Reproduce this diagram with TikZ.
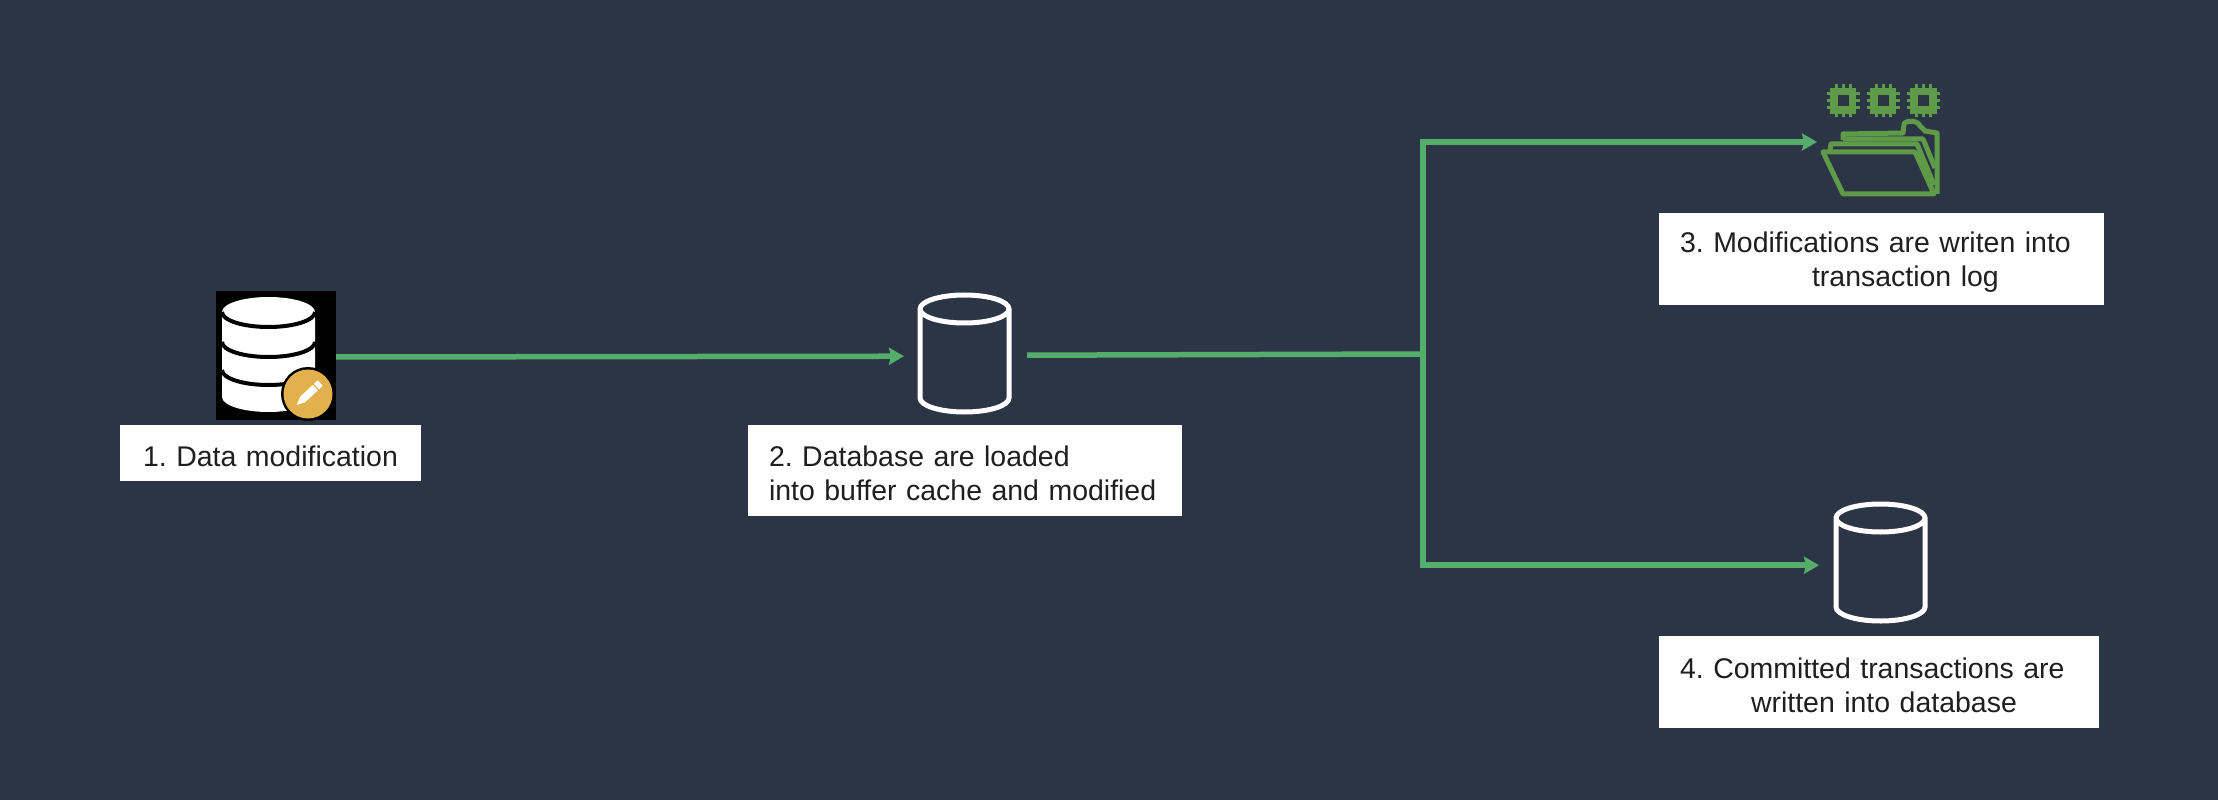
\documentclass[tikz,border=0pt]{standalone}
\usepackage{fontspec}
\setmainfont{Liberation Sans}
\usetikzlibrary{arrows.meta,shapes.geometric}
\definecolor{bgnavy}{HTML}{2C3545}
\definecolor{flowgreen}{HTML}{55AD6C}
\definecolor{chipgreen}{HTML}{5E9A48}
\definecolor{badgegold}{HTML}{E3B04E}
\tikzset{
  lblbox/.style={fill=white,inner xsep=0.21cm,inner ysep=0pt,outer sep=0pt,align=left,text=black!88,
    font=\fontsize{8.1}{9.7}\selectfont\frenchspacing,execute at begin node={\rule{0pt}{0.27cm}}},
  dbcyl/.style={shape=cylinder,shape border rotate=90,draw=white,line width=0.05cm,outer sep=0pt,inner sep=0.4cm,
    shape aspect=0.35,minimum width=0.89cm,minimum height=1.17cm,anchor=shape center},
  flow/.style={draw=flowgreen,line width=0.055cm,-{Stealth[length=0.15cm,width=0.17cm,inset=0.02cm]}},
  flowline/.style={draw=flowgreen,line width=0.055cm},
  logicon/.style={draw=chipgreen,line width=0.05cm,line join=round},
  sepline/.style={draw=black,line width=0.04cm},
  chip/.pic={
    \draw [chipgreen,line width=0.075cm] (-0.095,-0.095) rectangle (0.095,0.095);
    \foreach \p in {-0.07,0,0.07} {
      \draw [chipgreen,line width=0.03cm] (\p,-0.165) -- (\p,0.165);
      \draw [chipgreen,line width=0.03cm] (-0.165,\p) -- (0.165,\p);
    }
    \fill [bgnavy] (-0.055,-0.055) rectangle (0.055,0.055);
  }
}
\begin{document}
\begin{tikzpicture}
\fill [bgnavy] (0,0) rectangle (22.18,-8);
% icons
\node (dbedit) [fill=black,inner sep=0pt,outer sep=0pt,minimum width=1.2cm,minimum height=1.29cm] at (2.76,-3.555) {};
\node (dbcache) [dbcyl] at (9.645,-3.535) {};
\node (dbfinal) [dbcyl] at (18.805,-5.625) {};
\node (logfolder) [inner sep=0pt,outer sep=0pt,minimum width=1.18cm,minimum height=1.12cm] at (18.81,-1.42) {};
% labels
\node (step1) [lblbox,text width=2.59cm,align=center,minimum height=0.56cm] at (2.705,-4.53) {1. Data modification};
\node (step2) [lblbox,text width=3.92cm,minimum height=0.91cm] at (9.65,-4.705) {2. Database are loaded\\into buffer cache and modified};
\node (step3) [lblbox,text width=4.03cm,minimum height=0.92cm] at (18.815,-2.59) {3. Modifications are writen into\\\hspace*{1.32cm}transaction log};
\node (step4) [lblbox,text width=3.98cm,minimum height=0.92cm] at (18.79,-6.82) {4. Committed transactions are\\\hspace*{0.71cm}written into database};
% stacked database with pencil badge
\fill [white] (2.22,-3.12) -- (2.22,-3.97) arc (180:360:0.465 and 0.15) -- (3.15,-3.12) arc (0:180:0.465 and 0.15);
\draw [sepline] (2.22,-3.12) arc (180:360:0.465 and 0.15);
\draw [sepline] (2.22,-3.42) arc (180:360:0.465 and 0.15);
\draw [sepline] (2.22,-3.70) arc (180:360:0.465 and 0.15);
\fill [black] (3.08,-3.94) circle (0.27);
\fill [badgegold] (3.08,-3.94) circle (0.245);
\begin{scope}[shift={(3.085,-3.94)},rotate=43]
\fill [white] (-0.16,0) -- (-0.08,0.037) -- (0.16,0.037) -- (0.16,-0.037) -- (-0.08,-0.037) -- cycle;
\draw [badgegold,line width=0.012cm] (0.10,0.04) -- (0.10,-0.04);
\end{scope}
% log icon
\path (18.43,-1.01) pic {chip};
\path (18.83,-1.01) pic {chip};
\path (19.235,-1.01) pic {chip};
\draw [logicon] (18.43,-1.40) -- (18.43,-1.34) -- (19.03,-1.33) -- (19.04,-1.24) .. controls (19.06,-1.20) and (19.18,-1.20) .. (19.20,-1.26) -- (19.25,-1.31) -- (19.37,-1.33) -- (19.37,-1.94);
\draw [logicon] (18.43,-1.39) -- (19.23,-1.39) -- (19.35,-1.68);
\draw [logicon] (18.30,-1.50) -- (18.31,-1.44) -- (19.17,-1.44) -- (19.34,-1.85);
\draw [logicon] (18.23,-1.52) -- (19.15,-1.52) -- (19.34,-1.94) -- (18.43,-1.94) -- cycle;
% connectors
\coordinate (branch) at (14.23,-3.54);
\draw [flow] ([yshift=-0.015cm]dbedit.east) -- ([xshift=-0.16cm,yshift=0.125cm]dbcache.west);
\draw [flowline] ([xshift=0.18cm,yshift=0.135cm]dbcache.east) -- (branch);
\draw [flow] (branch) |- ([xshift=-0.05cm]logfolder.west);
\draw [flow] (branch) |- ([xshift=-0.17cm,yshift=0.125cm]dbfinal.west);
\end{tikzpicture}
\end{document}
